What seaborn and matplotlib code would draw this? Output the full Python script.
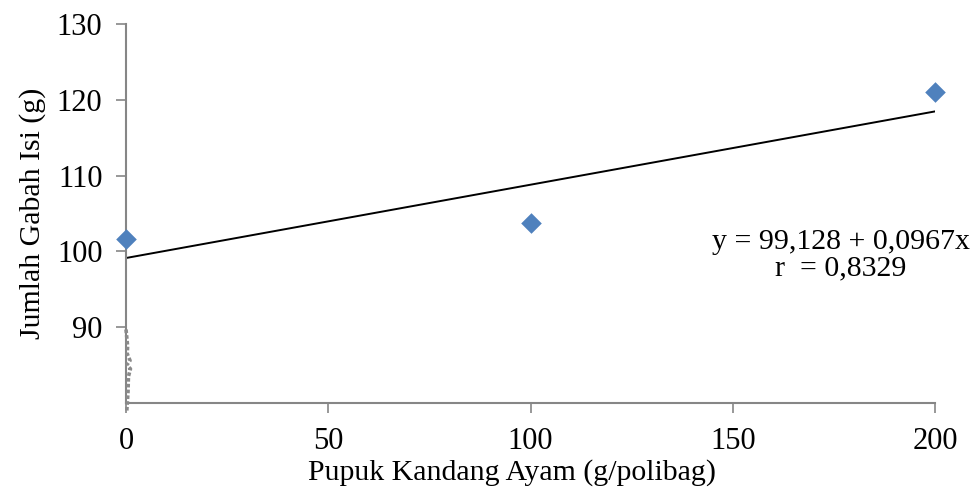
import matplotlib
matplotlib.use("Agg")
import matplotlib.pyplot as plt
import seaborn as sns
import numpy as np
import pandas as pd

# Data
dose = [0, 100, 200]
yield_g = [101.6, 103.8, 121.0]
intercept = 99.128
slope = 0.0967
x_ticks = [0, 50, 100, 150, 200]
y_ticks = [90, 100, 110, 120, 130]

sns.set_theme(style="white")
plt.rcParams['font.family'] = ['Liberation Serif', 'DejaVu Serif']
plt.rcParams['text.color'] = 'black'

fig = plt.figure(figsize=(9.77, 4.91), dpi=100)
ax = fig.add_axes([126/977, 1-403/491, (935-126)/977, (403-24)/491])

df = pd.DataFrame({"x": dose, "y": yield_g})
fit_x = np.array([dose[0], dose[-1]])
fit = pd.DataFrame({"x": fit_x, "y": intercept + slope * fit_x})

sns.lineplot(data=fit, x="x", y="y", ax=ax, color="black", linewidth=1.4)
sns.scatterplot(data=df, x="x", y="y", ax=ax, marker="D", s=110, color="#4F81BD",
                edgecolor="#4F81BD", linewidth=0, zorder=5, clip_on=False)

ax.set_xlim(0, 200)
ax.set_ylim(80, 130)
ax.set_xticks(x_ticks)
ax.set_yticks(y_ticks)
ax.set_xticklabels([str(v) for v in x_ticks])
ax.set_yticklabels([str(v) for v in y_ticks])

for side in ["top", "right"]:
    ax.spines[side].set_visible(False)
for side in ["left", "bottom"]:
    ax.spines[side].set_color("#868686")
    ax.spines[side].set_linewidth(1.5)
ax.tick_params(axis="both", which="both", direction="out", length=7, width=1.2,
               color="#868686", labelsize=22, labelcolor="black", left=True, bottom=True)
ax.tick_params(axis="x", pad=10)
ax.tick_params(axis="y", pad=10)

ax.set_xlabel("Pupuk Kandang Ayam (g/polibag)", fontsize=21.5, color="black")
ax.xaxis.set_label_coords(0.477, -0.148)
ax.set_ylabel("Jumlah Gabah Isi (g)", fontsize=21.5, labelpad=8, color="black")

# axis-break squiggle near origin
sq_y = [89.7, 87.5, 86.5, 85.6, 85.0, 84.5, 83.5, 81.5, 79.0]
sq_x = [0.0, 0.4, 0.3, 1.0, 0.2, 1.1, 0.6, 0.5, 0.2]
ax.plot(sq_x, sq_y, color="#8a8a8a", linewidth=2.6, linestyle=(0, (1, 0.6)), clip_on=False, zorder=6)

ax.text(0.884, 0.39, "y = 99,128 + 0,0967x\nr  = 0,8329", transform=ax.transAxes,
        fontsize=21.5, ha="center", va="center", linespacing=1.05, color="black")

fig.savefig("out.png", dpi=100)
